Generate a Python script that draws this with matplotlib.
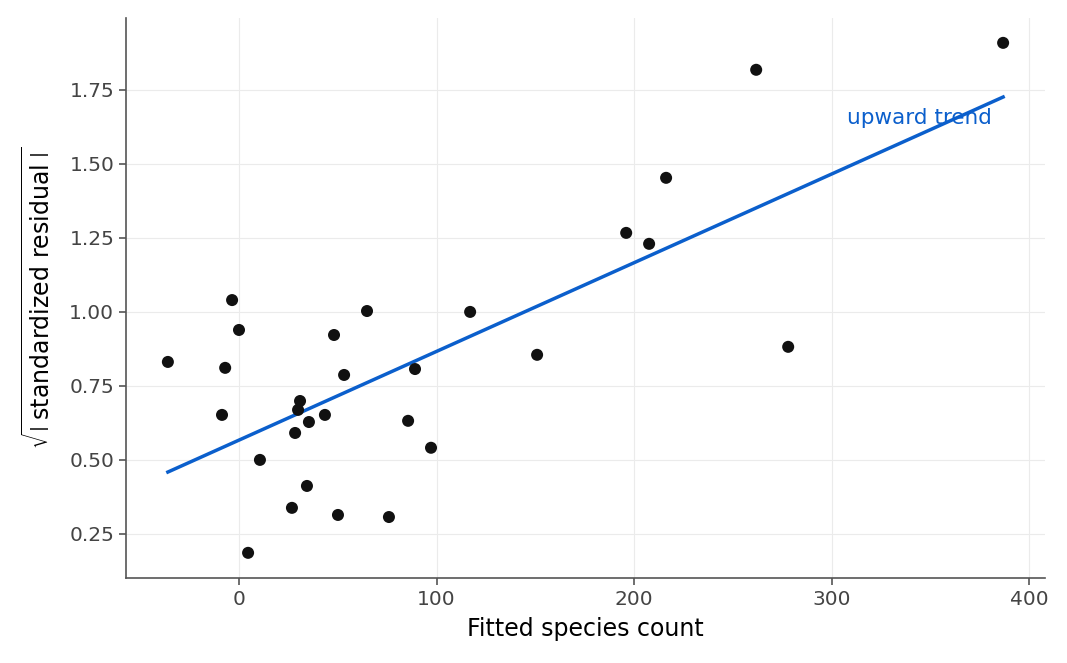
import numpy as np
import matplotlib
matplotlib.use("Agg")
import matplotlib.pyplot as plt

plt.rcParams["font.family"] = ["DejaVu Sans"]
plt.rcParams["mathtext.fontset"] = "dejavusans"

# fitted values vs sqrt(|standardized residual|)
fitted = [-36, -3.5, 0, -7, -8.6, 10.6, 4.6, 26.8, 28.4, 29.9, 30.9, 35.4, 34.4,
          43.5, 48.1, 50.1, 53.2, 64.8, 75.9, 85.6, 89.1, 97.2, 117, 150.9,
          196, 207.6, 216.2, 261.8, 278, 386.8]
sqrt_resid = [0.831, 1.04, 0.939, 0.811, 0.652, 0.5, 0.186, 0.338, 0.591, 0.669,
              0.699, 0.628, 0.412, 0.652, 0.922, 0.314, 0.787, 1.003, 0.307, 0.632,
              0.807, 0.541, 1.0, 0.855, 1.267, 1.23, 1.453, 1.818, 0.882, 1.909]
trend_x = [-36, 386.8]
trend_y = [0.459, 1.726]

fitted = np.array(fitted)
sqrt_resid = np.array(sqrt_resid)

fig = plt.figure(figsize=(10.67, 6.63), dpi=100)
ax = fig.add_axes([126 / 1067, 1 - 578 / 663, (1045 - 126) / 1067, (578 - 18) / 663])

ax.grid(True, color="#ebebeb", linewidth=0.8)
ax.set_axisbelow(True)
ax.plot(trend_x, trend_y, color="#0b5fcc", linewidth=2.5, zorder=2)
ax.scatter(fitted, sqrt_resid, s=75, color="#111111", zorder=3, edgecolors="none")
ax.text(308, 1.655, "upward trend", color="#0b5fcc", fontsize=15.5, va="center")

ax.set_xlim(-57.2, 408)
ax.set_ylim(0.101, 1.993)
ax.set_xticks([0, 100, 200, 300, 400])
ax.set_yticks([0.25, 0.5, 0.75, 1.0, 1.25, 1.5, 1.75])
ax.yaxis.set_major_formatter(matplotlib.ticker.FormatStrFormatter("%.2f"))

for side in ["top", "right"]:
    ax.spines[side].set_visible(False)
for side in ["left", "bottom"]:
    ax.spines[side].set_color("#555555")
    ax.spines[side].set_linewidth(1.2)
ax.tick_params(colors="#555555", labelsize=14.5, length=5, width=1.2)
for lbl in ax.get_xticklabels() + ax.get_yticklabels():
    lbl.set_color("#444444")

ax.set_xlabel("Fitted species count", fontsize=17, labelpad=6)
ax.set_ylabel(r"$\sqrt{\left|\;\mathrm{standardized\ residual}\;\right|}$", fontsize=17, labelpad=10)

fig.savefig("out.png", dpi=100)
